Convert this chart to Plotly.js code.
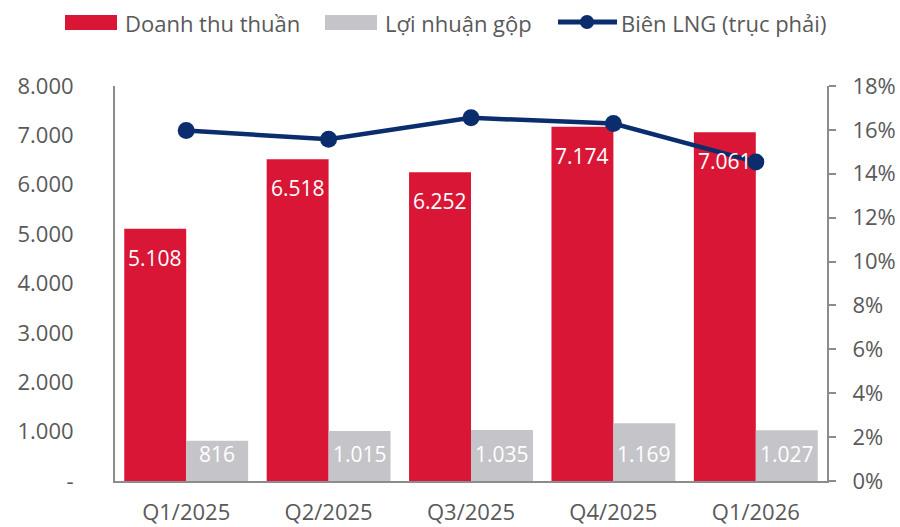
<!DOCTYPE html>
<html><head><meta charset="utf-8">
<script src="https://cdn.plot.ly/plotly-3.0.1.min.js"></script>
<style>html,body{margin:0;padding:0;background:#fff}#chart{width:900px;height:527px}</style>
</head><body><div id="chart"></div>
<script>
const categories = ["Q1/2025","Q2/2025","Q3/2025","Q4/2025","Q1/2026"];
const revenue = [5108, 6518, 6252, 7174, 7061];
const grossProfit = [816, 1015, 1035, 1169, 1027];
const grossMargin = [0.1597, 0.1557, 0.1655, 0.1629, 0.1454];
const leftTickVals = [0,1000,2000,3000,4000,5000,6000,7000,8000];
const leftTickText = ["-","1.000","2.000","3.000","4.000","5.000","6.000","7.000","8.000"];
const seriesNames = ["Doanh thu thuần","Lợi nhuận gộp","Biên LNG (trục phải)"];

const RED = "#D91636", GRAY = "#C5C4C9", NAVY = "#0B2D6E", TXT = "#595959", AX = "#8c8c8c";
const FONT = "Open Sans, Noto Sans, sans-serif";
function fmt(v){ return String(v).replace(/\B(?=(\d{3})+(?!\d))/g, "."); }

// plot area geometry (px) used for converting legend placement to paper coords
const PL = 115, PR = 827, PT = 86, PB = 481;
const px = v => (v - PL) / (PR - PL);
const py = v => (PB - v) / (PB - PT);

const traces = [
  {type:"bar", name:seriesNames[0], x:categories, y:revenue, marker:{color:RED}, hoverinfo:"none", showlegend:false},
  {type:"bar", name:seriesNames[1], x:categories, y:grossProfit, marker:{color:GRAY}, hoverinfo:"none", showlegend:false},
  {type:"scatter", mode:"lines+markers", name:seriesNames[2], x:categories, y:grossMargin, yaxis:"y2",
   line:{color:NAVY, width:4.5}, marker:{color:NAVY, size:17}, hoverinfo:"none", showlegend:false}
];

const annotations = [];
categories.forEach((c,i)=>{
  annotations.push({x:i-0.218, y:revenue[i], xref:"x", yref:"y", text:fmt(revenue[i]), showarrow:false,
    yshift:-29, font:{family:FONT, size:21, color:"#ffffff"}});
  annotations.push({x:i+0.218, y:0, xref:"x", yref:"y", text:fmt(grossProfit[i]), showarrow:false,
    yshift:27, font:{family:FONT, size:21, color:"#ffffff"}});
});

// custom legend
const legendY = py(22);
const shapes = [
  {type:"rect", xref:"paper", yref:"paper", x0:px(65), x1:px(117), y0:py(30), y1:py(15), fillcolor:RED, line:{width:0}},
  {type:"rect", xref:"paper", yref:"paper", x0:px(325), x1:px(377), y0:py(30), y1:py(15), fillcolor:GRAY, line:{width:0}},
  {type:"line", xref:"paper", yref:"paper", x0:px(558), x1:px(617), y0:legendY, y1:legendY, line:{color:NAVY, width:5}},
  {type:"circle", xref:"paper", yref:"paper", x0:px(580), x1:px(594), y0:py(29), y1:py(15), fillcolor:NAVY, line:{width:0}}
];
[[seriesNames[0],123],[seriesNames[1],383],[seriesNames[2],619]].forEach(([t,x])=>{
  annotations.push({xref:"paper", yref:"paper", x:px(x), y:py(23), xanchor:"left", yanchor:"middle",
    text:t, showarrow:false, font:{family:FONT, size:22, color:TXT}});
});

const layout = {
  width:900, height:527,
  margin:{l:PL, r:900-PR, t:PT, b:527-PB},
  paper_bgcolor:"#fff", plot_bgcolor:"#fff",
  font:{family:FONT, size:22, color:TXT},
  barmode:"group", bargap:0.13, bargroupgap:0,
  showlegend:false,
  xaxis:{type:"category", showgrid:false, showline:true, linecolor:AX, linewidth:2,
    ticks:"", tickfont:{family:FONT, size:22, color:TXT}, ticklabelstandoff:11},
  yaxis:{range:[0,8000], tickvals:leftTickVals, ticktext:leftTickText, showgrid:false,
    showline:true, linecolor:AX, linewidth:2, ticks:"", zeroline:false,
    tickfont:{family:FONT, size:22, color:TXT}, ticklabelstandoff:35},
  yaxis2:{overlaying:"y", side:"right", range:[0,0.18], dtick:0.02, tickformat:".0%",
    showgrid:false, showline:true, linecolor:AX, linewidth:2, ticks:"outside",
    ticklen:7, tickcolor:AX, tickwidth:2, zeroline:false, ticklabelstandoff:12,
    tickfont:{family:FONT, size:22, color:TXT}},
  shapes:shapes,
  annotations:annotations
};
Plotly.newPlot("chart", traces, layout, {displayModeBar:false, staticPlot:true});
</script></body></html>
